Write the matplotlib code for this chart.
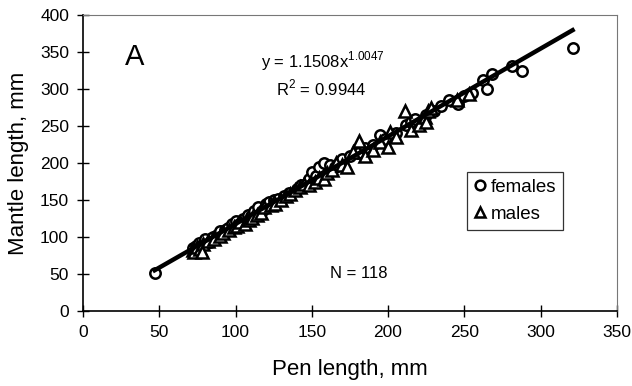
import numpy as np
import matplotlib
matplotlib.use('Agg')
import matplotlib.pyplot as plt
from matplotlib.lines import Line2D

plt.rcParams['font.family'] = ['Liberation Sans', 'DejaVu Sans']

# females (circles): pen length, mantle length
fem_x = [47, 72, 74, 76, 78, 80, 83, 85, 88, 90, 93, 95, 98, 100, 102, 105, 108, 110,
         112, 115, 118, 120, 122, 125, 128, 132, 135, 140, 143, 148, 150, 153, 155, 158,
         162, 165, 170, 175, 180, 185, 190, 195, 198, 205, 212, 215, 218, 225, 230, 235,
         240, 246, 250, 255, 262, 265, 268, 281, 288, 321]
fem_y = [52, 85, 88, 92, 89, 97, 93, 100, 103, 108, 110, 112, 117, 122, 118, 125, 130, 128,
         135, 140, 137, 145, 148, 150, 152, 155, 160, 165, 170, 178, 188, 183, 195, 200,
         198, 195, 205, 210, 213, 220, 225, 238, 232, 240, 252, 256, 260, 265, 270, 277,
         285, 280, 290, 295, 312, 300, 320, 331, 325, 355]

# males (triangles)
mal_x = [72, 73, 75, 77, 79, 82, 86, 90, 92, 96, 99, 101, 103, 106, 109, 111, 114, 117,
         119, 123, 126, 130, 133, 136, 139, 142, 145, 148, 152, 155, 158, 160, 163, 166,
         170, 173, 177, 181, 185, 190, 195, 200, 201, 205, 211, 215, 220, 224, 225, 226,
         228, 245, 253, 78]
mal_y = [82, 80, 86, 84, 90, 95, 97, 102, 105, 110, 113, 115, 120, 118, 123, 126, 130, 132,
         140, 143, 145, 150, 155, 158, 164, 168, 172, 170, 175, 180, 178, 187, 190, 200,
         198, 195, 215, 230, 210, 218, 228, 222, 242, 235, 270, 245, 252, 262, 255, 270,
         275, 285, 293, 80]

# power fit reported on the chart
fit_a = 1.1508
fit_b = 1.0047

fig = plt.figure(figsize=(6.32, 3.86), dpi=100)
ax = fig.add_axes([0.1313, 0.1943, 0.8447, 0.7667])

ms = 7.5
mew = 1.8
ax.plot(fem_x, fem_y, 'o', ms=ms, mfc='white', mec='black', mew=mew, zorder=3)
ax.plot(mal_x, mal_y, '^', ms=ms + 0.5, mfc='white', mec='black', mew=mew, zorder=3)

xx = np.linspace(min(fem_x + mal_x), max(fem_x + mal_x), 200)
ax.plot(xx, fit_a * xx ** fit_b, color='black', lw=3.2, zorder=4)

ax.set_xlim(0, 350)
ax.set_ylim(0, 400)
ax.set_xticks(range(0, 351, 50))
ax.set_yticks(range(0, 401, 50))
ax.tick_params(direction='inout', length=8, width=1, labelsize=12.5, pad=6)

for s in ['left', 'bottom']:
    ax.spines[s].set_color('black')
    ax.spines[s].set_linewidth(1.2)
for s in ['top', 'right']:
    ax.spines[s].set_color('#777777')
    ax.spines[s].set_linewidth(0.8)

ax.set_xlabel('Pen length, mm', fontsize=16, labelpad=14)
ax.set_ylabel('Mantle length, mm', fontsize=16, labelpad=8)

ax.text(34, 343, 'A', fontsize=21, ha='center', va='center')
ax.text(157, 338, r'y = 1.1508x$^{\mathregular{1.0047}}$', fontsize=12, ha='center', va='center')
ax.text(156, 301, r'R$^{\mathregular{2}}$ = 0.9944', fontsize=12, ha='center', va='center')
ax.text(181, 51, 'N = 118', fontsize=12, ha='center', va='center')

handles = [Line2D([], [], ls='', marker='o', ms=ms - 0.5, mfc='white', mec='black', mew=mew),
           Line2D([], [], ls='', marker='^', ms=ms, mfc='white', mec='black', mew=mew)]
leg = ax.legend(handles, ['females', 'males'], loc='upper left', bbox_to_anchor=(0.72, 0.47),
                fontsize=13.5, frameon=True, fancybox=False, edgecolor='black',
                handlelength=0.6, handletextpad=0.3, borderpad=0.35, labelspacing=0.55,
                borderaxespad=0)
leg.get_frame().set_linewidth(0.9)

fig.savefig('out.png', dpi=100)
